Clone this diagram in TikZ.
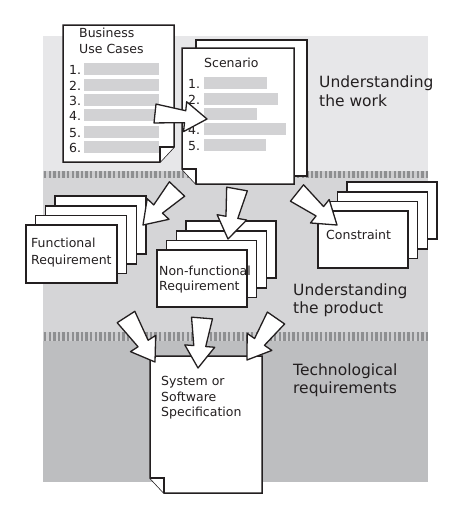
\documentclass[tikz,border=0pt]{standalone}
\usepackage{fontspec}
\setmainfont{DejaVu Sans}
\usetikzlibrary{calc}
\definecolor{bandA}{HTML}{E7E7E9}
\definecolor{bandB}{HTML}{D5D5D7}
\definecolor{bandC}{HTML}{BDBEC0}
\definecolor{hatchdark}{HTML}{8E8F91}
\definecolor{hatchlight}{HTML}{CDCDCF}
\definecolor{barcol}{HTML}{D2D2D4}
\definecolor{ink}{HTML}{231F20}
\newcommand{\fatarrow}[6]{%
  \coordinate (fa-n) at ($(#2)!#6!(#1)$);
  \draw[blockarrow] ($(#1)!#3!90:(#2)$) -- ($(fa-n)!#4!90:(#2)$) -- ($(fa-n)!#5!90:(#2)$) -- (#2)
     -- ($(fa-n)!#5!-90:(#2)$) -- ($(fa-n)!#4!-90:(#2)$) -- ($(#1)!#3!-90:(#2)$) -- cycle;}
\newcommand{\sheetstack}[4]{%
  \foreach \k in {3,2,1,0}{\draw[sheet] ({#1+9.7*\k},{#2-9.6*\k}) rectangle ++(#3,#4);}}
\begin{document}
\begin{tikzpicture}[x=1pt,y=-1pt,
  sheet/.style={fill=white,draw=ink,line width=1.5pt,line join=miter},
  blockarrow/.style={fill=white,draw=ink,line width=1.3pt,line join=round},
  doctext/.style={font=\fontsize{12.5}{15}\selectfont,text=ink,anchor=base west,inner sep=0pt},
  bigtext/.style={font=\fontsize{15.5}{18}\selectfont,text=ink,anchor=base west,inner sep=0pt},
  bar/.style={fill=barcol,draw=none}]
\useasboundingbox (0,0) rectangle (458,525);
% bands
\fill[bandA] (43,36) rectangle (428,171);
\fill[hatchlight] (43,171) rectangle (428,178);
\fill[bandB] (43,178) rectangle (428,332);
\fill[hatchlight] (43,332) rectangle (428,341);
\fill[bandC] (43,341) rectangle (428,482);
\foreach \x in {44,48.6,...,426}{%
  \fill[hatchdark] (\x,171) rectangle ++(2.4,7);
  \fill[hatchdark] (\x,332) rectangle ++(2.4,9);}
% Business use cases
\draw[sheet] (63,25) -- (174,25) -- (174,147) -- (160,162) -- (63,162) -- cycle;
\draw[sheet] (174,147) -- (160,147) -- (160,162);
\node[doctext] (buc1) at (79,37) {Business};
\node[doctext] (buc2) at (79,53) {Use Cases};
\foreach \i/\y in {1/63,2/79,3/94,4/109,5/126,6/141}{%
  \fill[bar] (84,\y) rectangle ++(75,12);
  \node[doctext] (bucn\i) at (69,\y+11) {\i.};}
% Scenario
\draw[sheet] (196,40) rectangle (307,176);
\draw[sheet] (182,48) -- (294,48) -- (294,184) -- (196,184) -- (182,169) -- cycle;
\draw[sheet] (182,169) -- (196,169) -- (196,184);
\node[doctext] (scn) at (204,67) {Scenario};
\foreach \i/\y/\w in {1/77/63,2/93/74,3/108/53,4/123/82,5/139/62}{%
  \fill[bar] (204,\y) rectangle ++(\w,12);
  \node[doctext] (scn\i) at (188,\y+11) {\i.};}
\coordinate (a1t) at (155,113.5);
\coordinate (a1h) at (207,119);
\fatarrow{a1t}{a1h}{9.5pt}{6pt}{15pt}{22pt}
\node[bigtext] (uw1) at (319,87) {Understanding};
\node[bigtext] (uw2) at (319,106) {the work};
% stacks
\sheetstack{26}{225}{91}{58}
\node[doctext] (fr1) at (31,247) {Functional};
\node[doctext] (fr2) at (31,264) {Requirement};
\sheetstack{157}{250}{90}{57}
\node[doctext] (nf1) at (159,275) {Non-functional};
\node[doctext] (nf2) at (159,290) {Requirement};
\sheetstack{318}{211}{90}{57}
\node[doctext] (cs) at (326,239) {Constraint};
\node[bigtext] (up1) at (293,295) {Understanding};
\node[bigtext] (up2) at (293,313) {the product};
\coordinate (a2t) at (177,189); \coordinate (a2h) at (143,225);
\coordinate (a3t) at (237,189); \coordinate (a3h) at (228,239);
\coordinate (a4t) at (297,193); \coordinate (a4h) at (337,225);
\fatarrow{a2t}{a2h}{10.5pt}{6pt}{15pt}{22pt}
\fatarrow{a3t}{a3h}{10.5pt}{6pt}{15pt}{22pt}
\fatarrow{a4t}{a4h}{10.5pt}{6pt}{15pt}{22pt}
% system spec
\draw[sheet] (150,356) -- (262,356) -- (262,493) -- (164,493) -- (150,478) -- cycle;
\draw[sheet] (150,478) -- (164,478) -- (164,493);
\node[doctext] (ss1) at (161,385) {System or};
\node[doctext] (ss2) at (161,401) {Software};
\node[doctext] (ss3) at (161,416) {Specification};
\coordinate (a5t) at (126,317); \coordinate (a5h) at (155,362);
\coordinate (a6t) at (202,318); \coordinate (a6h) at (198,368);
\coordinate (a7t) at (276,318); \coordinate (a7h) at (247,360);
\fatarrow{a5t}{a5h}{10.5pt}{6pt}{15pt}{22pt}
\fatarrow{a6t}{a6h}{10.5pt}{6pt}{15pt}{22pt}
\fatarrow{a7t}{a7h}{10.5pt}{6pt}{15pt}{22pt}
\node[bigtext] (tr1) at (293,375) {Technological};
\node[bigtext] (tr2) at (293,393) {requirements};
\end{tikzpicture}
\end{document}
